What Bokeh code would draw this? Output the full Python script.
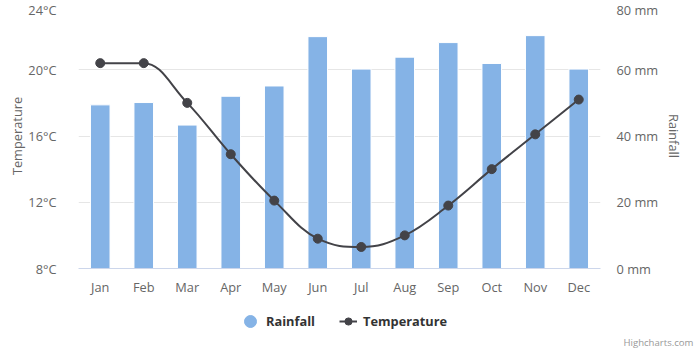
from bokeh.plotting import figure
from bokeh.layouts import column
from bokeh.models import (Range1d, LinearAxis, FixedTicker, PrintfTickFormatter,
                          Legend, LegendItem, Title, ColumnDataSource, FactorRange)
from bokeh.embed import file_html
from bokeh.resources import INLINE

months = ["Jan", "Feb", "Mar", "Apr", "May", "Jun", "Jul", "Aug", "Sep", "Oct", "Nov", "Dec"]
rainfall = [49.4, 50.1, 43.3, 52.0, 55.1, 70.0, 60.2, 63.8, 68.2, 61.9, 70.3, 60.2]
temperature = [20.4, 20.4, 18.0, 14.9, 12.1, 9.8, 9.3, 10.0, 11.8, 14.0, 16.1, 18.2]
temp_ticks = [8, 12, 16, 20, 24]
rain_ticks = [0, 20, 40, 60, 80]

BAR = "#85b3e6"
LINE = "#434348"
FONT = "Open Sans"
LBL = "12.8px"

p = figure(width=700, height=300, x_range=FactorRange(*months, range_padding=0),
           y_range=Range1d(8, 24), output_backend="svg", toolbar_location=None,
           min_border_left=78, min_border_right=100, min_border_top=3, min_border_bottom=32)
p.outline_line_color = None
p.background_fill_color = "white"
p.border_fill_color = "white"
p.extra_y_ranges = {"rain": Range1d(0, 80)}

# bars
src = ColumnDataSource(dict(x=months, rain=rainfall, t=temperature))
p.vbar(x="x", top="rain", width=0.45, bottom=0, source=src, y_range_name="rain",
       fill_color=BAR, line_color="white", line_width=1)

# spline (Highcharts-style smoothing) via bezier segments
n = len(months)
xs = list(range(n))
ys = temperature
sm = 1.5
den = sm + 1
lc = [None] * n
rc = [None] * n
for i in range(n):
    if 0 < i < n - 1:
        lx = (sm * xs[i] + xs[i - 1]) / den
        ly = (sm * ys[i] + ys[i - 1]) / den
        rx = (sm * xs[i] + xs[i + 1]) / den
        ry = (sm * ys[i] + ys[i + 1]) / den
        if rx != lx:
            corr = ((ry - ly) * (rx - xs[i])) / (rx - lx) + ys[i] - ry
            ly += corr
            ry += corr
        if ly > ys[i - 1] and ly > ys[i]:
            ly = max(ys[i - 1], ys[i]); ry = 2 * ys[i] - ly
        elif ly < ys[i - 1] and ly < ys[i]:
            ly = min(ys[i - 1], ys[i]); ry = 2 * ys[i] - ly
        if ry > ys[i + 1] and ry > ys[i]:
            ry = max(ys[i + 1], ys[i]); ly = 2 * ys[i] - ry
        elif ry < ys[i + 1] and ry < ys[i]:
            ry = min(ys[i + 1], ys[i]); ly = 2 * ys[i] - ry
        lc[i] = (lx, ly)
        rc[i] = (rx, ry)
    else:
        lc[i] = (xs[i], ys[i])
        rc[i] = (xs[i], ys[i])

def cx(v):
    # numeric category index -> factor-range coordinate (centre = idx + 0.5)
    return v + 0.5

bz = dict(x0=[], y0=[], x1=[], y1=[], cx0=[], cy0=[], cx1=[], cy1=[])
for i in range(1, n):
    bz["x0"].append(cx(xs[i - 1])); bz["y0"].append(ys[i - 1])
    bz["x1"].append(cx(xs[i])); bz["y1"].append(ys[i])
    bz["cx0"].append(cx(rc[i - 1][0])); bz["cy0"].append(rc[i - 1][1])
    bz["cx1"].append(cx(lc[i][0])); bz["cy1"].append(lc[i][1])
p.bezier(x0="x0", y0="y0", x1="x1", y1="y1", cx0="cx0", cy0="cy0", cx1="cx1", cy1="cy1",
         source=ColumnDataSource(bz), line_color=LINE, line_width=2)
p.scatter(x="x", y="t", source=src, size=9, fill_color=LINE, line_color=LINE)

# axes
p.xaxis.axis_line_color = "#ccd6eb"
p.xaxis.major_tick_line_color = None
p.xaxis.minor_tick_line_color = None
p.xaxis.major_label_text_font = FONT
p.xaxis.major_label_text_font_size = LBL
p.xaxis.major_label_text_color = "#666666"
p.xaxis.major_label_standoff = 3
p.xgrid.grid_line_color = None

p.yaxis.ticker = FixedTicker(ticks=temp_ticks)
p.yaxis.formatter = PrintfTickFormatter(format="%d°C")
p.yaxis.axis_line_color = None
p.yaxis.major_tick_line_color = None
p.yaxis.minor_tick_line_color = None
p.yaxis.major_label_text_font = FONT
p.yaxis.major_label_text_font_size = LBL
p.yaxis.major_label_text_color = "#666666"
p.yaxis.major_label_standoff = 16
p.yaxis.axis_label = "Temperature"
p.yaxis.axis_label_text_font = FONT
p.yaxis.axis_label_text_font_size = LBL
p.yaxis.axis_label_text_font_style = "normal"
p.yaxis.axis_label_text_color = "#666666"
p.yaxis.axis_label_standoff = -1
p.ygrid.ticker = FixedTicker(ticks=temp_ticks)
p.ygrid.grid_line_color = "#e6e6e6"

ax2 = LinearAxis(y_range_name="rain", ticker=FixedTicker(ticks=rain_ticks),
                 formatter=PrintfTickFormatter(format="%d mm"),
                 axis_label="Rainfall", axis_label_text_font=FONT,
                 axis_label_text_font_size=LBL, axis_label_text_font_style="normal",
                 axis_label_text_color="#666666", axis_label_standoff=4,
                 major_label_text_font=FONT, major_label_text_font_size=LBL,
                 major_label_text_color="#666666", major_label_standoff=10,
                 axis_line_color=None, major_tick_line_color=None, minor_tick_line_color=None)
p.add_layout(ax2, "right")

# ---- bottom strip: legend + credit ----
q = figure(width=700, height=50, x_range=Range1d(0, 100), y_range=Range1d(0, 100),
           output_backend="svg", toolbar_location=None,
           x_axis_location=None, y_axis_location=None,
           min_border_left=78, min_border_right=100, min_border_top=0, min_border_bottom=0)
q.outline_line_color = None
q.grid.grid_line_color = None
q.border_fill_color = "white"

# hidden proxy renderers that only supply legend glyphs
proxy_src = ColumnDataSource(dict(a=rainfall[:1], b=temperature[:1]))
leg_rain = q.scatter(x="a", y="b", source=proxy_src, marker="circle", size=12,
                     fill_color=BAR, line_color=BAR, visible=False)
leg_line = q.line(x="a", y="b", source=proxy_src, line_color=LINE, line_width=2, visible=False)
leg_dot = q.scatter(x="a", y="b", source=proxy_src, marker="circle", size=9,
                    fill_color=LINE, line_color=LINE, visible=False)

common = dict(orientation="horizontal", label_text_font=FONT, label_text_font_size=LBL,
              label_text_font_style="bold", label_text_color="#333333",
              glyph_height=30, label_height=30, padding=0, margin=0,
              border_line_color=None, background_fill_alpha=0,
              inactive_fill_alpha=0, click_policy="none")
legend1 = Legend(items=[LegendItem(label="Rainfall", renderers=[leg_rain])],
                 location=(235 - 78, -5), glyph_width=30, label_standoff=1, **common)
legend2 = Legend(items=[LegendItem(label="Temperature", renderers=[leg_line, leg_dot])],
                 location=(339 - 78, -5), glyph_width=18, label_standoff=6, **common)
q.add_layout(legend1, "center")
q.add_layout(legend2, "center")

credit = Title(text="Highcharts.com", align="right", offset=-93, standoff=4,
               text_font=FONT, text_font_size="9.6px", text_color="#999999",
               text_font_style="normal")
q.add_layout(credit, "below")

layout = column(p, q, spacing=0)
open("out.html", "w").write(file_html(layout, INLINE))
